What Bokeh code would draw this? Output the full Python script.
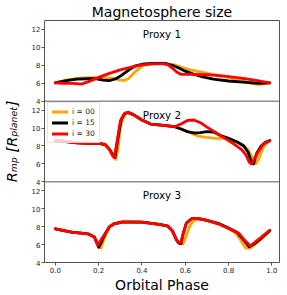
from bokeh.plotting import figure
from bokeh.models import (Range1d, FixedTicker, Span, Label, Legend, LegendItem)
from bokeh.embed import file_html
from bokeh.resources import INLINE

# ---------------- data ----------------
title_text = "Magnetosphere size"
xlabel_text = "Orbital Phase"
ylabel_text = "Rₘₚ [Rₚₗₐₙₑₜ]"
panel_names = ["Proxy 1", "Proxy 2", "Proxy 3"]
series_labels = ["i = 00", "i = 15", "i = 30"]
series_colors = ["#FFA500", "#000000", "#FF0000"]
x_ticks = [0.0, 0.2, 0.4, 0.6, 0.8, 1.0]
x_tick_labels = ["0.0", "0.2", "0.4", "0.6", "0.8", "1.0"]
y_ticks = [4, 6, 8, 10, 12]
y_tick_labels = ["4", "6", "8", "10", "12"]

# Proxy 1
p1_i00_x = [0.00, 0.05, 0.10, 0.15, 0.20, 0.24, 0.27, 0.30, 0.32, 0.34, 0.37, 0.40, 0.43, 0.47, 0.51, 0.55, 0.58, 0.63, 0.68, 0.73, 0.78, 0.83, 0.87, 0.90, 0.93, 0.96, 0.99]
p1_i00_y = [6.05, 6.35, 6.55, 6.62, 6.62, 6.6, 6.55, 6.35, 6.3, 6.55, 7.3, 7.9, 8.15, 8.2, 8.2, 8.05, 7.8, 7.45, 7.2, 6.95, 6.75, 6.5, 6.25, 6.0, 5.88, 5.9, 6.05]
p1_i15_x = [0.00, 0.05, 0.10, 0.15, 0.19, 0.22, 0.25, 0.28, 0.31, 0.34, 0.37, 0.41, 0.45, 0.51, 0.54, 0.57, 0.60, 0.64, 0.68, 0.73, 0.80, 0.88, 0.94, 0.99]
p1_i15_y = [6.05, 6.3, 6.45, 6.5, 6.5, 6.35, 6.3, 6.5, 6.95, 7.5, 7.95, 8.15, 8.2, 8.2, 8.0, 7.7, 7.35, 7.0, 6.7, 6.45, 6.25, 6.1, 6.0, 6.05]
p1_i30_x = [0.00, 0.04, 0.08, 0.12, 0.15, 0.20, 0.25, 0.30, 0.35, 0.40, 0.45, 0.50, 0.52, 0.54, 0.56, 0.58, 0.62, 0.70, 0.78, 0.85, 0.92, 0.99]
p1_i30_y = [6.05, 6.0, 5.98, 5.9, 6.15, 6.65, 7.1, 7.5, 7.8, 8.05, 8.15, 8.15, 8.05, 7.7, 7.25, 7.0, 7.0, 6.95, 6.8, 6.6, 6.35, 6.05]

# Proxy 2
p2_i00_x = [0.00, 0.05, 0.10, 0.15, 0.20, 0.23, 0.25, 0.27, 0.28, 0.29, 0.30, 0.32, 0.335, 0.36, 0.40, 0.44, 0.50, 0.55, 0.58, 0.62, 0.66, 0.70, 0.74, 0.78, 0.82, 0.86, 0.89, 0.91, 0.925, 0.94, 0.955, 0.97, 0.99]
p2_i00_y = [8.6, 8.5, 8.35, 8.3, 8.3, 8.2, 7.7, 6.9, 6.5, 7.8, 10.2, 11.5, 11.75, 11.5, 10.9, 10.45, 10.3, 10.15, 9.95, 9.5, 9.1, 8.95, 8.85, 8.85, 8.6, 8.2, 7.6, 6.7, 6.0, 6.6, 7.6, 8.2, 8.6]
p2_i15_x = [0.00, 0.05, 0.10, 0.15, 0.20, 0.23, 0.25, 0.265, 0.275, 0.29, 0.305, 0.32, 0.335, 0.36, 0.40, 0.44, 0.50, 0.55, 0.58, 0.61, 0.64, 0.67, 0.70, 0.73, 0.76, 0.80, 0.84, 0.87, 0.89, 0.905, 0.915, 0.93, 0.95, 0.97, 0.99]
p2_i15_y = [8.6, 8.5, 8.35, 8.3, 8.3, 8.15, 7.6, 7.0, 6.7, 9.0, 11.0, 11.6, 11.75, 11.5, 10.9, 10.45, 10.3, 10.15, 9.9, 9.6, 9.45, 9.5, 9.6, 9.55, 9.2, 8.85, 8.45, 8.0, 7.3, 6.2, 6.0, 7.2, 8.0, 8.4, 8.6]
p2_i30_x = [0.00, 0.05, 0.10, 0.15, 0.20, 0.23, 0.25, 0.265, 0.272, 0.285, 0.30, 0.32, 0.335, 0.36, 0.40, 0.44, 0.50, 0.55, 0.58, 0.61, 0.64, 0.67, 0.70, 0.74, 0.78, 0.82, 0.86, 0.88, 0.895, 0.905, 0.92, 0.94, 0.96, 0.99]
p2_i30_y = [8.6, 8.5, 8.35, 8.3, 8.3, 8.15, 7.6, 6.9, 6.7, 8.5, 10.8, 11.65, 11.75, 11.5, 10.9, 10.45, 10.3, 10.15, 10.45, 10.85, 10.9, 10.6, 10.1, 9.5, 8.9, 8.3, 7.6, 7.0, 6.2, 6.0, 6.6, 7.5, 8.2, 8.6]

# Proxy 3
p3_i00_x = [0.00, 0.04, 0.08, 0.12, 0.15, 0.18, 0.195, 0.21, 0.23, 0.25, 0.27, 0.31, 0.40, 0.48, 0.52, 0.54, 0.56, 0.575, 0.59, 0.60, 0.62, 0.64, 0.67, 0.70, 0.76, 0.80, 0.83, 0.845, 0.86, 0.88, 0.90, 0.93, 0.96, 0.99]
p3_i00_y = [7.75, 7.55, 7.37, 7.27, 7.2, 6.85, 6.2, 5.6, 6.9, 7.9, 8.35, 8.6, 8.5, 8.25, 8.05, 7.55, 6.5, 6.1, 6.1, 6.7, 8.05, 8.7, 8.9, 8.7, 8.25, 7.8, 7.3, 6.9, 6.3, 5.6, 5.6, 6.2, 6.8, 7.55]
p3_i15_x = [0.00, 0.04, 0.08, 0.12, 0.15, 0.18, 0.19, 0.20, 0.215, 0.23, 0.25, 0.27, 0.31, 0.40, 0.48, 0.52, 0.54, 0.56, 0.57, 0.58, 0.59, 0.605, 0.63, 0.66, 0.70, 0.76, 0.80, 0.84, 0.87, 0.895, 0.92, 0.95, 0.99]
p3_i15_y = [7.75, 7.55, 7.37, 7.27, 7.2, 6.85, 6.3, 5.7, 6.4, 7.2, 8.0, 8.3, 8.5, 8.5, 8.25, 8.05, 7.55, 6.5, 6.15, 6.1, 7.2, 8.4, 8.9, 8.9, 8.7, 8.3, 7.85, 7.35, 6.5, 5.75, 6.1, 6.7, 7.55]
p3_i30_x = [0.00, 0.04, 0.08, 0.12, 0.15, 0.18, 0.196, 0.21, 0.23, 0.25, 0.27, 0.31, 0.40, 0.48, 0.52, 0.54, 0.56, 0.573, 0.58, 0.59, 0.605, 0.63, 0.66, 0.70, 0.76, 0.80, 0.83, 0.85, 0.87, 0.90, 0.94, 0.99]
p3_i30_y = [7.75, 7.55, 7.37, 7.27, 7.2, 6.85, 5.9, 6.5, 7.2, 8.0, 8.3, 8.5, 8.5, 8.25, 8.05, 7.55, 6.5, 6.15, 6.3, 7.2, 8.4, 8.9, 8.9, 8.7, 8.25, 7.8, 7.45, 7.2, 6.6, 5.85, 6.6, 7.6]

panels = [
    [(p1_i00_x, p1_i00_y), (p1_i15_x, p1_i15_y), (p1_i30_x, p1_i30_y)],
    [(p2_i00_x, p2_i00_y), (p2_i15_x, p2_i15_y), (p2_i30_x, p2_i30_y)],
    [(p3_i00_x, p3_i00_y), (p3_i15_x, p3_i15_y), (p3_i30_x, p3_i30_y)],
]

# ---------------- layout ----------------
Y_LO, Y_HI = 4, 13
SPAN = Y_HI - Y_LO
N = 3
X0, X1 = -0.05, 1.035
W, H = 287, 295
FONT = "DejaVu Sans"
FRAME_COL = "#555555"

p = figure(width=W, height=H, output_backend="svg", toolbar_location=None,
           x_range=Range1d(X0, X1), y_range=Range1d(0, N * SPAN),
           min_border_left=37, min_border_right=8, min_border_top=19,
           min_border_bottom=33, tools="")
p.outline_line_color = FRAME_COL
p.outline_line_width = 1
p.grid.visible = False

p.title.text = title_text
p.title.align = "center"
p.title.text_font = FONT
p.title.text_font_size = "14px"
p.title.text_font_style = "normal"
p.title.text_color = "black"
p.title.standoff = 2
p.title.offset = 0

offsets = []
for k in range(N):
    slot = N - 1 - k
    off = slot * SPAN - Y_LO
    offsets.append(off)
    p.extra_y_ranges["p%d" % k] = Range1d(0 - off, N * SPAN - off)

for ax in p.xaxis:
    ax.ticker = FixedTicker(ticks=x_ticks)
    ax.major_label_overrides = {t: s for t, s in zip(x_ticks, x_tick_labels)}
    ax.axis_label = xlabel_text
    ax.axis_label_standoff = 1
    ax.axis_label_text_font_size = "14px"
for ax in p.yaxis:
    ticks, over = [], {}
    for k in range(N):
        for t, s in zip(y_ticks, y_tick_labels):
            ticks.append(t + offsets[k])
            over[t + offsets[k]] = s
    ax.ticker = FixedTicker(ticks=ticks)
    ax.major_label_overrides = over
    ax.axis_label = ylabel_text
    ax.axis_label_standoff = 9
    ax.axis_label_text_font_size = "14.5px"
    ax.axis_label_text_font_style = "italic"
for ax in list(p.xaxis) + list(p.yaxis):
    ax.axis_line_color = None
    ax.major_tick_line_color = FRAME_COL
    ax.major_tick_in = 0
    ax.major_tick_out = 3
    ax.minor_tick_line_color = None
    ax.major_label_text_font = FONT
    ax.major_label_text_font_size = "7px"
    ax.major_label_text_color = "#262626"
    ax.major_label_standoff = 1
    ax.axis_label_text_font = FONT
    ax.axis_label_text_color = "black"
p.xaxis.axis_label_text_font_style = "normal"

for k in range(1, N):
    p.add_layout(Span(location=k * SPAN, dimension="width",
                      line_color=FRAME_COL, line_width=1))

legend_items = []
for k, series in enumerate(panels):
    for j, (xs, ys) in enumerate(series):
        r = p.line(xs, ys, y_range_name="p%d" % k, line_color=series_colors[j],
                   line_width=2.8, line_join="round", line_cap="round")
        if k == 1:
            legend_items.append(LegendItem(label=series_labels[j], renderers=[r]))
    p.add_layout(Label(x=(X0 + X1) / 2, y=11.5, y_range_name="p%d" % k,
                       text=panel_names[k], text_align="center",
                       text_baseline="middle", text_font=FONT,
                       text_font_size="10.4px", text_color="black"))

legend = Legend(items=legend_items, location=(3, 119))
legend.label_text_font = FONT
legend.label_text_font_size = "7.5px"
legend.label_text_color = "#262626"
legend.label_height = 9
legend.glyph_height = 9
legend.glyph_width = 16
legend.label_standoff = 4
legend.spacing = 2
legend.padding = 4
legend.margin = 0
legend.border_line_color = "#cccccc"
legend.border_line_width = 1
legend.background_fill_color = "white"
legend.background_fill_alpha = 0.8
p.add_layout(legend)

open("out.html", "w").write(file_html(p, INLINE))
